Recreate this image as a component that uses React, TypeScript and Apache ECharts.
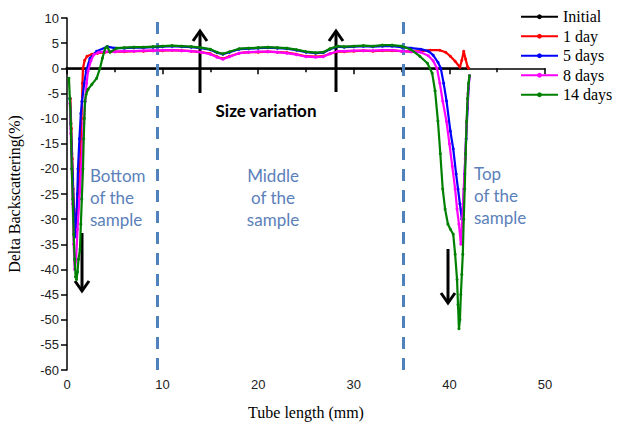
import React, { useEffect, useRef } from "react";
import * as echarts from "echarts";

const seriesNames = ["Initial", "1 day", "5 days", "8 days", "14 days"];
const seriesColors = ["#000000", "#ff0000", "#0000ff", "#ff00ff", "#008000"];

const xTicks = { min: 0, max: 50, interval: 10 };
const yTicks = { min: -60, max: 10, interval: 5 };

const initial = [[0, 0], [42, 0]];

const day1 = [[0.35, -6], [0.45, -12], [0.55, -18], [0.65, -24], [0.75, -28.5], [0.9, -31], [1.05, -28], [1.2, -24], [1.36, -20], [1.45, -14], [1.52, -10], [1.57, -6.6], [1.62, -3], [1.67, 0], [1.85, 1.6], [2.1, 2.4], [2.6, 2.8], [3.2, 3.0], [4, 3.2], [5, 3.3], [6, 3.3], [7, 3.4], [8, 3.4], [9, 3.5], [10, 3.5], [11, 3.6], [12, 3.5], [13, 3.4], [14, 3.2], [15, 2.9], [15.7, 2.3], [16.3, 1.9], [17, 2.4], [18, 3.0], [19, 3.2], [20, 3.2], [21, 3.3], [22, 3.2], [23, 3.1], [24, 2.8], [25, 2.4], [26, 2.3], [26.8, 2.4], [27.5, 2.9], [28.3, 3.3], [29, 3.3], [30, 3.4], [31, 3.5], [32, 3.4], [33, 3.5], [34, 3.5], [35, 3.4], [36, 3.3], [37, 3.4], [38, 3.6], [39, 3.6], [39.6, 3.2], [40.1, 2.4], [40.6, 1.4], [41.1, 0.2], [41.3, 1.6], [41.5, 3.4], [41.7, 1.8], [41.9, 0.3], [42.0, 0]];

const days5 = [[0.3, -6], [0.4, -11], [0.5, -17], [0.6, -22], [0.7, -28], [0.8, -32], [0.9, -33.5], [1.0, -29], [1.08, -25], [1.15, -20], [1.3, -14], [1.45, -9], [1.57, -6.6], [1.8, -3], [2.0, -0.6], [2.4, 2], [3.1, 3.4], [4.2, 4.3], [5, 4.0], [6, 4.0], [7, 4.1], [8, 4.1], [9, 4.2], [10, 4.3], [11, 4.4], [12, 4.3], [13, 4.2], [14, 4.0], [15, 3.7], [15.7, 3.1], [16.3, 2.8], [17, 3.2], [18, 3.8], [19, 3.9], [20, 4.0], [21, 4.1], [22, 4.0], [23, 3.9], [24, 3.6], [25, 3.2], [26, 3.0], [26.8, 3.1], [27.5, 3.8], [28.3, 4.3], [29, 4.2], [30, 4.3], [31, 4.4], [32, 4.3], [33, 4.4], [34, 4.4], [35, 4.2], [36, 4.0], [37, 3.8], [37.8, 3.4], [38.3, 2.6], [38.8, 1.2], [39.1, 0], [39.4, -3], [39.7, -6.5], [40.1, -12.5], [40.4, -16], [40.7, -21], [40.9, -24], [41.1, -27], [41.3, -30], [41.45, -27], [41.6, -21], [41.75, -14], [41.9, -8], [42.0, -4], [42.1, -1.5]];

const days8 = [[0.3, -7], [0.4, -13], [0.5, -20], [0.6, -27], [0.7, -35], [0.8, -40], [0.95, -38], [1.1, -32], [1.3, -26], [1.45, -21], [1.6, -16], [1.75, -11], [1.9, -6.6], [2.05, -3], [2.2, -0.6], [2.5, 1.5], [2.8, 2.7], [3.3, 3.2], [4, 3.3], [5, 3.3], [6, 3.4], [7, 3.4], [8, 3.5], [9, 3.5], [10, 3.6], [11, 3.6], [12, 3.5], [13, 3.4], [14, 3.2], [15, 2.8], [15.7, 2.2], [16.3, 1.8], [17, 2.3], [18, 3.0], [19, 3.2], [20, 3.3], [21, 3.3], [22, 3.2], [23, 3.0], [24, 2.7], [25, 2.3], [26, 2.2], [26.8, 2.3], [27.5, 2.9], [28.3, 3.4], [29, 3.4], [30, 3.5], [31, 3.5], [32, 3.5], [33, 3.6], [34, 3.6], [35, 3.4], [36, 3.3], [37, 3.2], [37.8, 2.5], [38.3, 1.5], [38.7, 0], [39.0, -3], [39.3, -6.5], [39.7, -10.6], [40.0, -15], [40.3, -19.5], [40.6, -24], [40.8, -28], [41.0, -31], [41.2, -35], [41.35, -30], [41.5, -24], [41.65, -18], [41.8, -11], [41.95, -5], [42.1, -1.5]];

const days14 = [[0.2, -2], [0.3, -6], [0.4, -11], [0.5, -20], [0.6, -26], [0.7, -33], [0.8, -38], [0.9, -41.5], [1.0, -42], [1.1, -40.5], [1.2, -38], [1.36, -36], [1.45, -31], [1.55, -26], [1.67, -20], [1.75, -14], [1.82, -10], [1.88, -6.6], [2.0, -5.2], [2.2, -4.2], [2.6, -3.2], [3.1, -2], [3.45, 0], [3.7, 2], [4.0, 4], [4.2, 4.3], [4.5, 3.2], [5.2, 4.0], [6, 4.1], [7, 4.2], [8, 4.2], [9, 4.3], [10, 4.4], [11, 4.5], [12, 4.4], [13, 4.3], [14, 4.1], [15, 3.8], [15.7, 3.2], [16.3, 2.9], [17, 3.3], [18, 3.9], [19, 4.0], [20, 4.1], [21, 4.2], [22, 4.1], [23, 4.0], [24, 3.7], [25, 3.3], [26, 3.1], [26.8, 3.2], [27.5, 3.9], [28.3, 4.4], [29, 4.3], [30, 4.4], [31, 4.5], [32, 4.4], [33, 4.6], [34, 4.6], [35, 4.4], [35.9, 3.8], [36.9, 2.4], [37.7, 1.0], [38.2, -1], [38.5, -4.5], [38.8, -10.5], [39.05, -17], [39.3, -24], [39.55, -28], [39.85, -31], [40.1, -32], [40.4, -33], [40.6, -37], [40.8, -42], [40.9, -47], [41.0, -51.8], [41.1, -50], [41.2, -45], [41.3, -41], [41.4, -37], [41.5, -30], [41.6, -24], [41.7, -17], [41.8, -10.6], [41.9, -6], [42.0, -3], [42.1, -1.5]];

const seriesData = [initial, day1, days5, days8, days14];

const regionLines = [9.4, 35.2];

const regionLabels = [
  { text: "Bottom\nof the\nsample", x: 90, y: 164, align: "left" },
  { text: "Middle\nof the\nsample", x: 273, y: 164, align: "center" },
  { text: "Top\nof the\nsample", x: 474, y: 162, align: "left" },
];

const SERIF = "'Liberation Serif', 'Times New Roman', serif";
const SANS = "'Liberation Sans', Arial, sans-serif";

function arrow(x: number, yFrom: number, yTo: number) {
  const dir = yTo < yFrom ? 1 : -1;
  return {
    type: "group",
    z: 100,
    children: [
      { type: "line", shape: { x1: x, y1: yFrom, x2: x, y2: yTo }, style: { stroke: "#000", lineWidth: 3 } },
      {
        type: "polyline",
        shape: { points: [[x - 7, yTo + dir * 10], [x, yTo], [x + 7, yTo + dir * 10]] },
        style: { stroke: "#000", lineWidth: 3, fill: null },
      },
    ],
  };
}

export default function App() {
  const ref = useRef<HTMLDivElement>(null);
  useEffect(() => {
    if (!ref.current) return;
    const chart = echarts.init(ref.current, null, { renderer: "svg" });
    const series: any[] = seriesNames.map((name, i) => ({
      name,
      type: "line",
      data: seriesData[i],
      color: seriesColors[i],
      symbol: "circle",
      symbolSize: 3,
      showAllSymbol: true,
      lineStyle: { width: i === 0 ? 2.2 : 2.2, color: seriesColors[i] },
      itemStyle: { color: seriesColors[i] },
      z: 3 + i,
    }));
    series[0].markLine = {
      silent: true,
      symbol: "none",
      label: { show: false },
      lineStyle: { color: "#4f81bd", width: 3, type: [12, 9] },
      data: regionLines.map((v) => ({ xAxis: v })),
    };
    chart.setOption({
      animation: false,
      backgroundColor: "#ffffff",
      grid: { left: 67, right: 73, top: 18, bottom: 57, outerBoundsMode: "none" },
      legend: {
        orient: "vertical",
        left: 520,
        top: 8,
        padding: 0,
        itemWidth: 37,
        itemHeight: 6,
        itemGap: 2,
        data: seriesNames,
        textStyle: { fontFamily: SERIF, fontSize: 16, color: "#000", lineHeight: 17.5 },
      },
      xAxis: {
        type: "value",
        min: xTicks.min,
        max: xTicks.max,
        interval: xTicks.interval,
        name: "Tube length (mm)",
        nameLocation: "middle",
        nameGap: 34,
        nameTextStyle: { fontFamily: SERIF, fontSize: 16, color: "#000" },
        axisLine: { lineStyle: { color: "#000", width: 1.5 } },
        axisTick: { show: true, length: 6, lineStyle: { color: "#000", width: 1.5 } },
        minorTick: { show: true, splitNumber: 2, length: 4, lineStyle: { color: "#000", width: 1.5 } },
        splitLine: { show: false },
        axisLabel: { fontFamily: SANS, fontSize: 13, color: "#222", margin: 8 },
      },
      yAxis: {
        type: "value",
        min: yTicks.min,
        max: yTicks.max,
        interval: yTicks.interval,
        name: "Delta Backscattering(%)",
        nameLocation: "middle",
        nameGap: 45,
        nameTextStyle: { fontFamily: SERIF, fontSize: 16, color: "#000" },
        axisLine: { show: true, lineStyle: { color: "#000", width: 1.5 } },
        axisTick: { show: true, length: 6, lineStyle: { color: "#000", width: 1.5 } },
        splitLine: { show: false },
        axisLabel: { fontFamily: SANS, fontSize: 13, color: "#222", margin: 8 },
      },
      graphic: [
        ...regionLabels.map((l) => ({
          type: "text",
          x: l.x,
          y: l.y,
          z: 90,
          style: {
            text: l.text,
            fill: "#5b80ba",
            font: "17px Lato",
            lineHeight: 22,
            align: l.align,
            verticalAlign: "top",
          },
        })),
        {
          type: "text",
          x: 266,
          y: 110,
          z: 90,
          style: { text: "Size variation", fill: "#000", font: "bold 17px Lato", align: "center", verticalAlign: "middle" },
        },
        arrow(200, 93, 31),
        arrow(336, 92, 31),
        arrow(82, 233, 291),
        arrow(448, 249, 303),
      ],
      series,
    });
    return () => chart.dispose();
  }, []);
  return <div ref={ref} style={{ position: "fixed", left: 0, top: 0, width: 618, height: 427 }} />;
}
